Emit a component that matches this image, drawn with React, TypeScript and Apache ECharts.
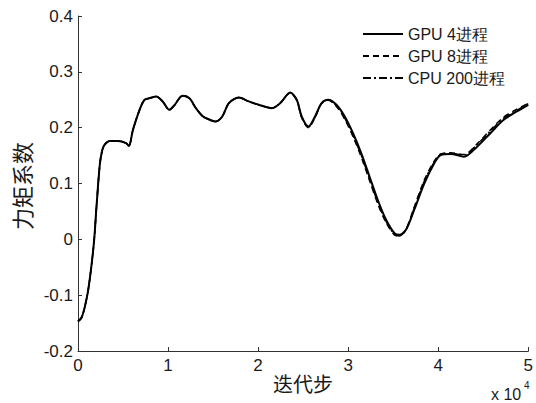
import React, { useEffect, useRef } from "react";
import * as echarts from "echarts";

// x in units of 10^4 iteration steps
const xSteps = [
  0, 0.04, 0.077, 0.114, 0.151, 0.18, 0.206, 0.243, 0.27, 0.298, 0.353, 0.444, 0.537, 0.565,
  0.61, 0.684, 0.739, 0.8, 0.868, 0.94, 1.014, 1.069, 1.161, 1.235, 1.309, 1.381, 1.45, 1.529,
  1.602, 1.676, 1.786, 1.896, 2.007, 2.153, 2.246, 2.356, 2.429, 2.484, 2.558, 2.632, 2.705,
  2.778, 2.87, 2.962, 3.054, 3.146, 3.238, 3.33, 3.421, 3.514, 3.569, 3.642, 3.734, 3.845,
  3.955, 4.028, 4.138, 4.286, 4.432, 4.579, 4.727, 4.873, 5.0,
];

const gpu4 = [
  -0.147, -0.14, -0.12, -0.09, -0.045, 0.0, 0.06, 0.135, 0.16, 0.17, 0.176, 0.176, 0.172, 0.167,
  0.196, 0.232, 0.25, 0.253, 0.256, 0.247, 0.232, 0.24, 0.257, 0.253, 0.235, 0.221, 0.215, 0.211,
  0.22, 0.244, 0.254, 0.247, 0.241, 0.235, 0.244, 0.263, 0.25, 0.22, 0.202, 0.22, 0.244,
  0.25, 0.241, 0.22, 0.19, 0.154, 0.112, 0.07, 0.035, 0.011, 0.008, 0.017, 0.053, 0.1,
  0.136, 0.151, 0.153, 0.148, 0.166, 0.19, 0.214, 0.229, 0.241,
];

const gpu8 = [
  -0.147, -0.14, -0.12, -0.09, -0.045, 0.0, 0.06, 0.135, 0.16, 0.17, 0.176, 0.176, 0.172, 0.167,
  0.196, 0.232, 0.25, 0.253, 0.256, 0.247, 0.232, 0.24, 0.257, 0.253, 0.235, 0.221, 0.215, 0.211,
  0.22, 0.244, 0.254, 0.247, 0.241, 0.235, 0.244, 0.262, 0.249, 0.218, 0.2, 0.218, 0.243,
  0.249, 0.238, 0.215, 0.184, 0.147, 0.105, 0.063, 0.03, 0.008, 0.006, 0.018, 0.058, 0.106,
  0.14, 0.153, 0.155, 0.152, 0.171, 0.196, 0.219, 0.233, 0.244,
];

const cpu200 = [
  -0.147, -0.14, -0.12, -0.09, -0.045, 0.0, 0.06, 0.135, 0.16, 0.17, 0.176, 0.176, 0.172, 0.167,
  0.196, 0.232, 0.25, 0.253, 0.256, 0.247, 0.232, 0.24, 0.257, 0.253, 0.235, 0.221, 0.215, 0.211,
  0.22, 0.244, 0.254, 0.247, 0.241, 0.235, 0.244, 0.262, 0.25, 0.219, 0.201, 0.219, 0.244,
  0.25, 0.239, 0.217, 0.186, 0.15, 0.108, 0.066, 0.032, 0.009, 0.006, 0.017, 0.056, 0.104,
  0.138, 0.152, 0.154, 0.151, 0.17, 0.194, 0.217, 0.231, 0.243,
];

const seriesNames = ["GPU 4进程", "GPU 8进程", "CPU 200进程"];
const xTicks = ["0", "1", "2", "3", "4", "5"];

const pair = (ys: number[]) => xSteps.map((x, i) => [x, ys[i]]);

export default function App() {
  const ref = useRef<HTMLDivElement>(null);
  useEffect(() => {
    if (!ref.current) return;
    const chart = echarts.init(ref.current, null, { renderer: "svg" });
    const font = "Liberation Sans, Arial, sans-serif";
    const cjk = "Noto Sans CJK SC, sans-serif";
    chart.setOption({
      animation: false,
      backgroundColor: "#ffffff",
      grid: { left: 78, right: 4, top: 16, bottom: 52, containLabel: false },
      xAxis: {
        type: "value",
        min: 0,
        max: 5,
        interval: 1,
        axisLine: { show: true, onZero: false, lineStyle: { color: "#333", width: 1 } },
        axisTick: { show: true, inside: true, length: 4, lineStyle: { color: "#333" } },
        splitLine: { show: false },
        axisLabel: {
          color: "#1a1a1a",
          fontSize: 17,
          fontFamily: font,
          margin: 6,
          formatter: (v: number) => xTicks[Math.round(v)] ?? String(v),
        },
      },
      yAxis: {
        type: "value",
        min: -0.2,
        max: 0.4,
        interval: 0.1,
        axisLine: { show: true, onZero: false, lineStyle: { color: "#333", width: 1 } },
        axisTick: { show: true, inside: true, length: 4, lineStyle: { color: "#333" } },
        splitLine: { show: false },
        axisLabel: {
          color: "#1a1a1a",
          fontSize: 17,
          fontFamily: font,
          margin: 5,
          formatter: (v: number) => {
            const r = Math.round(v * 10) / 10;
            return r === 0 ? "0" : r.toFixed(1);
          },
        },
      },
      legend: {
        show: true,
        orient: "vertical",
        left: 357,
        top: 21,
        itemWidth: 40,
        itemHeight: 14,
        itemGap: 6,
        itemStyle: { opacity: 0 },
        data: seriesNames,
        textStyle: { color: "#1a1a1a", fontSize: 16, fontFamily: font, lineHeight: 16 },
      },
      graphic: [
        {
          type: "text",
          x: 303,
          y: 383,
          style: {
            text: "迭代步",
            font: `20px ${cjk}`,
            fill: "#1a1a1a",
            align: "center",
            verticalAlign: "middle",
          },
        },
        {
          type: "text",
          x: 21,
          y: 186,
          rotation: Math.PI / 2,
          style: {
            text: "力矩系数",
            font: `22px ${cjk}`,
            fill: "#1a1a1a",
            align: "center",
            verticalAlign: "middle",
          },
        },
        {
          type: "text",
          x: 491,
          y: 394,
          style: {
            text: "x 10",
            font: `16px ${font}`,
            fill: "#1a1a1a",
            align: "left",
            verticalAlign: "middle",
          },
        },
        {
          type: "text",
          x: 524,
          y: 385,
          style: {
            text: "4",
            font: `10px ${font}`,
            fill: "#1a1a1a",
            align: "left",
            verticalAlign: "middle",
          },
        },
      ],
      series: [
        {
          name: seriesNames[0],
          type: "line",
          data: pair(gpu4),
          smooth: 0.3,
          showSymbol: false,
          symbol: "none",
          lineStyle: { color: "#000", width: 2, type: "solid" },
          itemStyle: { color: "#000" },
          z: 3,
        },
        {
          name: seriesNames[1],
          type: "line",
          data: pair(gpu8),
          smooth: 0.3,
          showSymbol: false,
          symbol: "none",
          lineStyle: { color: "#000", width: 1.5, type: [6, 4] },
          itemStyle: { color: "#000" },
          z: 2,
        },
        {
          name: seriesNames[2],
          type: "line",
          data: pair(cpu200),
          smooth: 0.3,
          showSymbol: false,
          symbol: "none",
          lineStyle: { color: "#000", width: 1.5, type: [8, 3, 2, 3] },
          itemStyle: { color: "#000" },
          z: 2,
        },
      ],
    });
    return () => chart.dispose();
  }, []);
  return (
    <div
      ref={ref}
      style={{ position: "fixed", left: 0, top: 0, width: 536, height: 403, background: "#fff" }}
    />
  );
}
